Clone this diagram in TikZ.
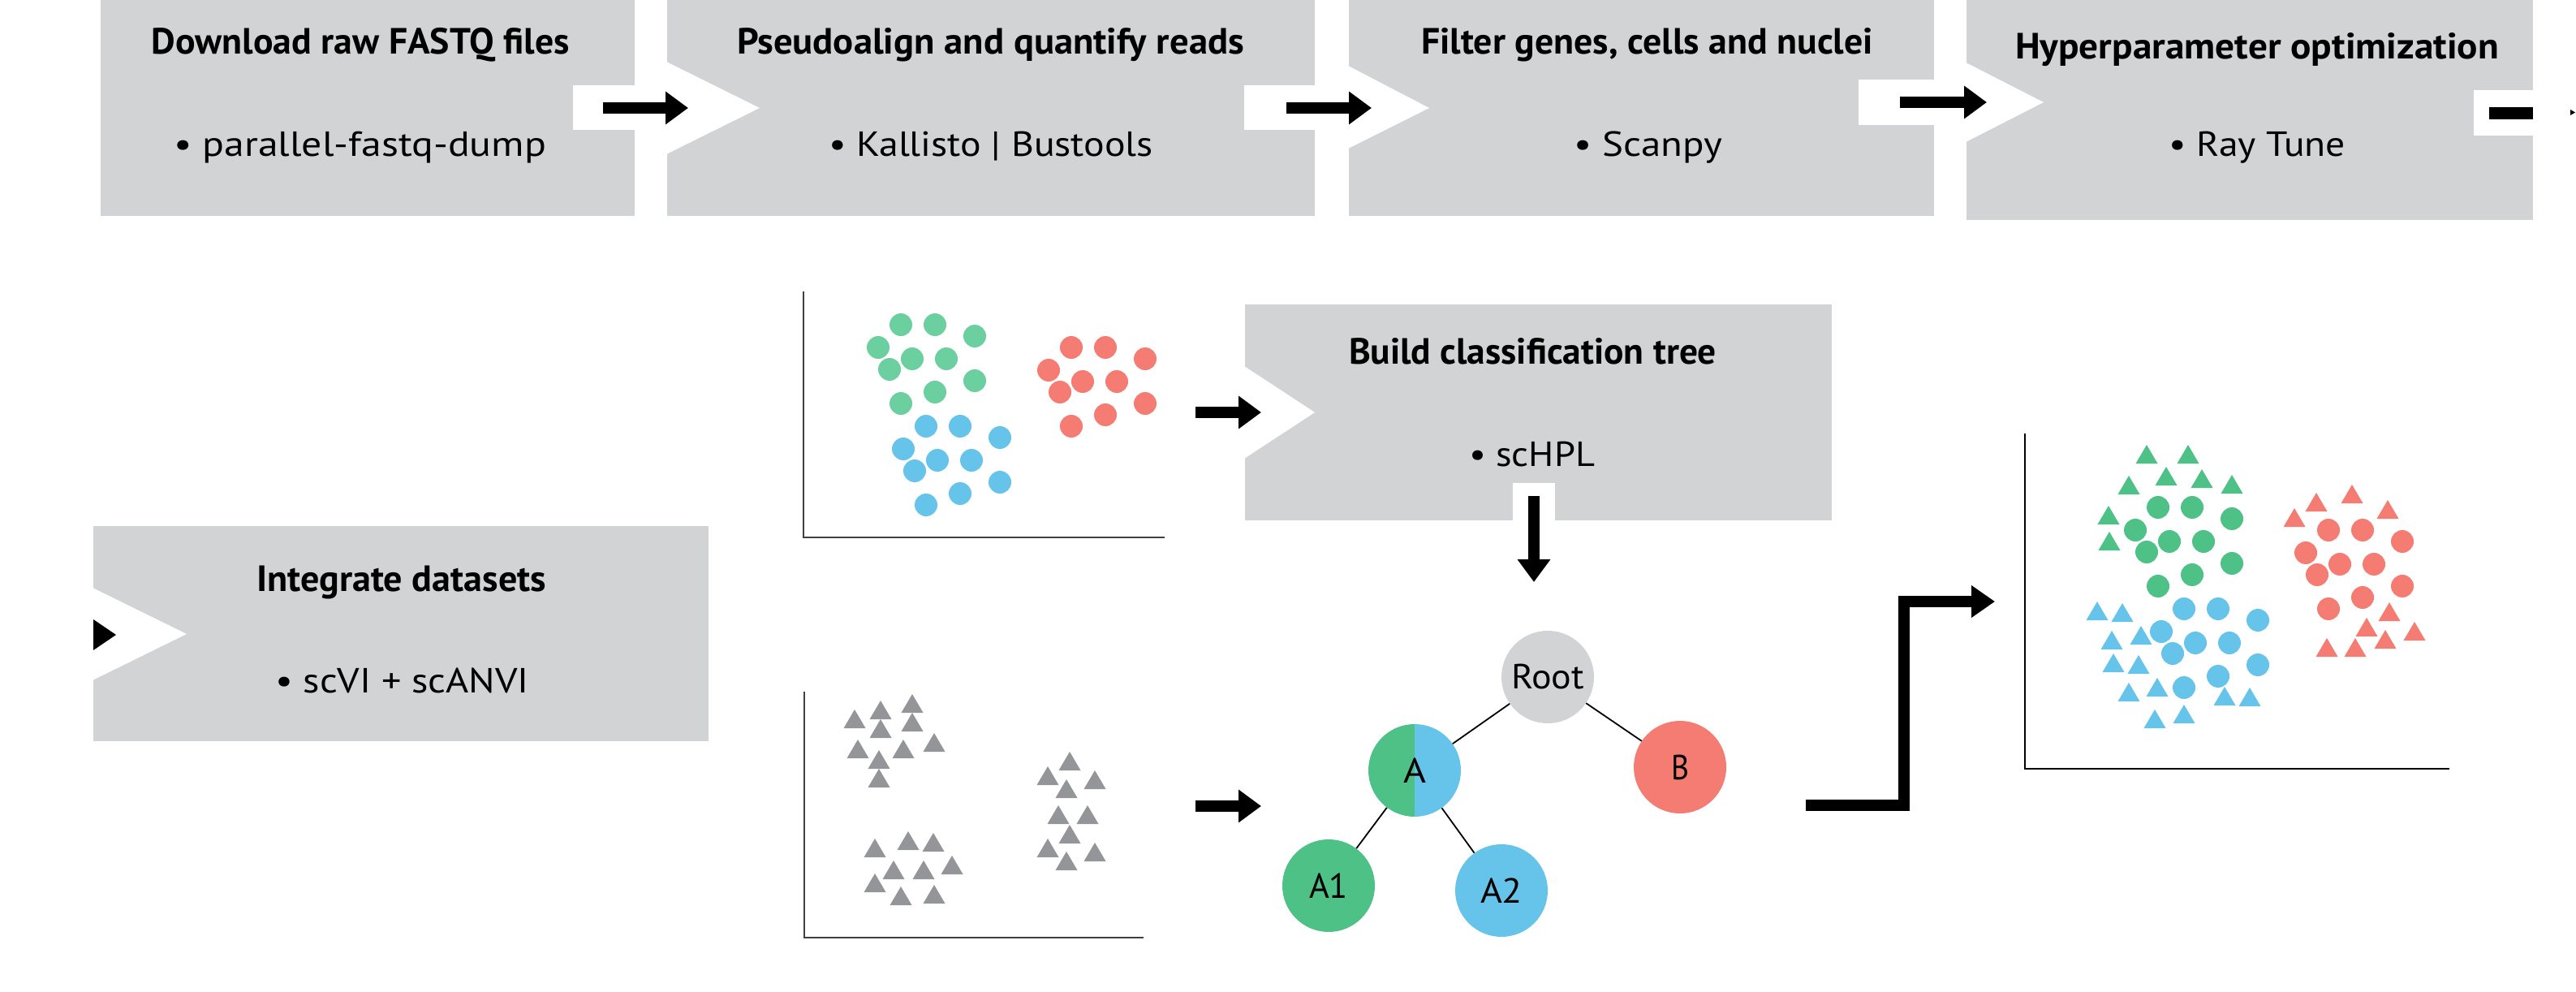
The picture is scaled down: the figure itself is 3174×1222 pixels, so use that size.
\documentclass[tikz,border=0pt]{standalone}
\usepackage{fontspec}
\setmainfont{PT Sans}
\usetikzlibrary{arrows.meta}
\definecolor{boxgray}{HTML}{D1D3D4}
\definecolor{trigray}{HTML}{939598}
\definecolor{mint}{HTML}{6CCFA0}
\definecolor{gr}{HTML}{4DC186}
\definecolor{rd}{HTML}{F47C73}
\definecolor{bl}{HTML}{66C4EA}
\definecolor{axgray}{HTML}{404040}
\newsavebox\fitbox
\newcommand\fitto[2]{\sbox\fitbox{#2}\pgfmathsetmacro\fitratio{#1/\the\wd\fitbox}\scalebox{\fitratio}[1]{\usebox\fitbox}}
\begin{document}
\begin{tikzpicture}[x=1pt,y=-1pt,
  box/.style={rectangle, fill=boxgray, draw=none, inner sep=0pt, anchor=north west},
  ttl/.style={anchor=base, inner sep=0pt, font=\fontsize{45}{54}\selectfont\bfseries},
  bul/.style={anchor=base, inner sep=0pt, font=\fontsize{43}{52}\selectfont},
  flow/.style={line width=14pt, -{Triangle[length=28pt,width=39pt]}},
  tn/.style={circle, minimum size=114pt, inner sep=0pt, font=\fontsize{43}{52}\selectfont},
  edge/.style={line width=1.8pt},
  axisA/.style={line width=2.5pt, axgray},
  axisB/.style={line width=2.5pt, black}]
\useasboundingbox (0,0) rectangle (3174,1222);
% boxes
\node[box, minimum width=658pt, minimum height=266pt] (box1) at (124,0) {};
\node[box, minimum width=798pt, minimum height=266pt] (box2) at (822,0) {};
\node[box, minimum width=721pt, minimum height=266pt] (box3) at (1662,0) {};
\node[box, minimum width=698pt, minimum height=271pt] (box4) at (2423,0) {};
\node[box, minimum width=723pt, minimum height=266pt] (box5) at (1534,375) {};
\node[box, minimum width=758pt, minimum height=265pt] (box6) at (115,648) {};
% notches
\fill[white] (706,105) rectangle (783,160);
\fill[white] (1533,105) rectangle (1621,160);
\fill[white] (2290,98) rectangle (2384,154);
\fill[white] (3048,111) rectangle (3122,167);
\fill[white] (1864,595) rectangle (1916,642);
\fill[white] (821,76) -- (936,133) -- (821,190) -- cycle;
\fill[white] (1661,81) -- (1761,133) -- (1661,183) -- cycle;
\fill[white] (2422,77) -- (2518,126) -- (2422,175) -- cycle;
\fill[white] (1533,451) -- (1620,508) -- (1533,565) -- cycle;
\fill[white] (114,724) -- (230,781) -- (114,838) -- cycle;
% arrows
\coordinate (p1) at (743,133); \coordinate (q1) at (848,133);
\coordinate (p2) at (1585,133); \coordinate (q2) at (1690,133);
\coordinate (p3) at (2341,126); \coordinate (q3) at (2448,126);
\coordinate (p4) at (3067,139.5); \coordinate (q4) at (3121,139.5);
\coordinate (p5) at (1473,508); \coordinate (q5) at (1554,508);
\coordinate (p6) at (1890,611); \coordinate (q6) at (1890,717);
\coordinate (p7) at (1473,993); \coordinate (q7) at (1554,993);
\coordinate (p8) at (2225,992); \coordinate (c8) at (2346,741); \coordinate (q8) at (2458,741);
\draw[flow] (p1) -- (q1);
\draw[flow] (p2) -- (q2);
\draw[flow] (p3) -- (q3);
\draw[line width=15pt] (p4) -- (q4);
\fill (3167,135) -- (3173,138.5) -- (3167,142) -- cycle;
\draw[flow] (p5) -- (q5);
\draw[flow] (p6) -- (q6);
\draw[flow] (p7) -- (q7);
\draw[line width=14pt, -{Triangle[length=29pt,width=38pt]}] (p8) -| (c8) -- (q8);
\fill (115,763) -- (143,782) -- (115,801) -- cycle;
% texts
\node[ttl] (t1) at (444.5,67) {\fitto{515}{Download raw FASTQ files}};
\node[bul] (s1) at (443.5,193) {\fitto{459}{• parallel-fastq-dump}};
\node[ttl] (t2) at (1220.5,67) {\fitto{625}{Pseudoalign and quantify reads}};
\node[bul] (s2) at (1221,193) {\fitto{400}{• Kallisto | Bustools}};
\node[ttl] (t3) at (2029.5,67) {\fitto{557}{Filter genes, cells and nuclei}};
\node[bul] (s3) at (2030.5,193) {\fitto{183}{• Scanpy}};
\node[ttl] (t4) at (2781,73) {\fitto{596}{Hyperparameter optimization}};
\node[bul] (s4) at (2781,193) {\fitto{218}{• Ray Tune}};
\node[ttl] (t5) at (1888.5,448) {\fitto{453}{Build classification tree}};
\node[bul] (s5) at (1887.5,574) {\fitto{155}{• scHPL}};
\node[ttl] (t6) at (494.5,728) {\fitto{357}{Integrate datasets}};
\node[bul] (s6) at (495.5,853) {\fitto{313}{• scVI + scANVI}};
% axes
\draw[axisA] (990,359) -- (990,662) -- (1435,662);
\draw[axisA] (991,852) -- (991,1155) -- (1409,1155);
\draw[axisB] (2495,534) -- (2495,947) -- (3018,947);
% dots
\foreach \bx/\by/\c in {1110/400/mint, 1320/428/rd, 1141/525/bl, 2659/625/gr, 2869/653/rd, 2691/750/bl}
  \foreach \dx/\dy in {0/0,42/0,91/14,-28/28,14/42,56/42,-14/55,91/69,42/83,0/97}
    \fill[\c] ({\bx+\dx},{\by+\dy}) circle[radius=14pt];
% triangles
\foreach \ax/\ay/\c in {1124/855/trigray,1085/863/trigray,1053/874/trigray,1124/878/trigray,1085/886/trigray,1151/903/trigray,1057/911/trigray,1113/911/trigray,1083/924/trigray,1083/947/trigray,
  1318/926/trigray,1291/944/trigray,1349/949/trigray,1314/960/trigray,1304/992/trigray,1340/992/trigray,1318/1016/trigray,1291/1033/trigray,1349/1038/trigray,1314/1049/trigray,
  1078/1033/trigray,1119/1024/trigray,1150/1026/trigray,1173/1054/trigray,1101/1060/trigray,1138/1060/trigray,1078/1076/trigray,1110/1092/trigray,1151/1090/trigray,
  2645/548/gr,2696/548/gr,2669/575/gr,2623/586/gr,2713/578/gr,2750/585/gr,2598/623/gr,2599/655/gr,
  2854/607/rd,2898/597/rd,2942/616/rd,2827/626/rd,2944/742/rd,2916/761/rd,2975/766/rd,2939/776/rd,2867/786/rd,2902/786/rd,
  2584/741/bl,2615/743/bl,2602/777/bl,2638/771/bl,2604/805/bl,2635/807/bl,2623/841/bl,2658/835/bl,2655/874/bl,2691/868/bl,2741/846/bl,2772/847/bl}
  \fill[\c] ({\ax-13.5},{\ay+23}) -- (\ax,\ay) -- ({\ax+13.5},{\ay+23}) -- cycle;
% tree
\node[tn, fill=boxgray] (root) at (1907,834) {\fitto{90}{Root}};
\node[tn, path picture={\fill[gr] (path picture bounding box.south west) rectangle (path picture bounding box.north);
  \fill[bl] (path picture bounding box.south) rectangle (path picture bounding box.north east);}] (A) at (1743,949) {\fitto{28}{A}};
\node[tn, fill=rd] (B) at (2070,945) {\fitto{22}{B}};
\node[tn, fill=gr] (A1) at (1637,1091) {\fitto{48}{A1}};
\node[tn, fill=bl] (A2) at (1850,1097) {\fitto{52}{A2}};
\draw[edge] (root) -- (A);
\draw[edge] (root) -- (B);
\draw[edge] (A) -- (A1);
\draw[edge] (A) -- (A2);
\end{tikzpicture}
\end{document}
